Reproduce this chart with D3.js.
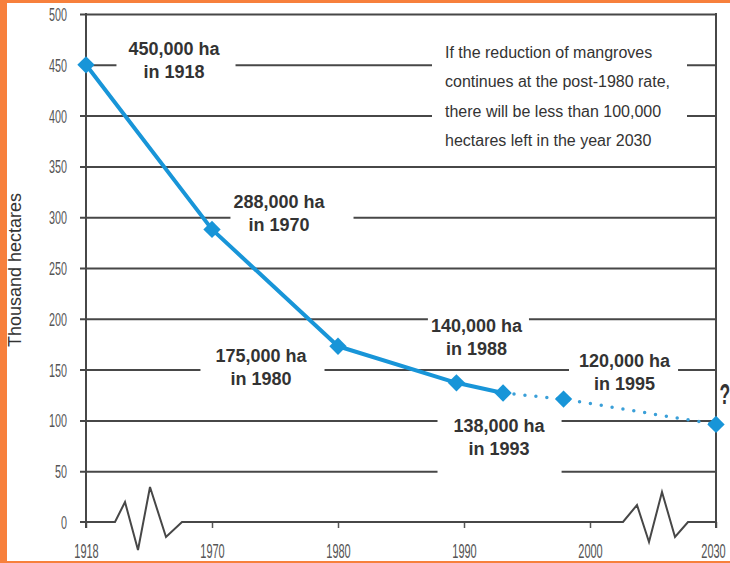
<!DOCTYPE html>
<html>
<head>
<meta charset="utf-8">
<script src="https://cdn.jsdelivr.net/npm/d3@7"></script>
<style>
  html, body { margin: 0; padding: 0; background: #ffffff; }
  svg { display: block; }
</style>
</head>
<body>
<svg id="chart" width="730" height="563"></svg>
<script>
// ---------------- DATA ----------------
const axisYears = [1918, 1970, 1980, 1990, 2000, 2030];
const yTicks = [0, 50, 100, 150, 200, 250, 300, 350, 400, 450, 500];
// point positions as drawn in the reference (year position, thousand hectares)
const pointYears = [1918, 1970, 1980, 1989.4, 1993.1, 1997.9, 2030];
const pointValues = [450, 288, 173, 137, 127, 121, 96];
const solidCount = 5; // first five points joined by a solid line, the rest dotted
const pointLabels = [
  ["450,000 ha", "in 1918"],
  ["288,000 ha", "in 1970"],
  ["175,000 ha", "in 1980"],
  ["140,000 ha", "in 1988"],
  ["138,000 ha", "in 1993"],
  ["120,000 ha", "in 1995"],
  ["?"]
];
const noteLines = [
  "If the reduction of mangroves",
  "continues at the post-1980 rate,",
  "there will be less than 100,000",
  "hectares left in the year 2030"
];
const yTitle = "Thousand hectares";

// ---------------- LAYOUT ----------------
const W = 730, H = 563;
const mLeft = 86, mRight = 716, mTop = 14, mBottom = 522;
const step = (mRight - mLeft) / (axisYears.length - 1);
const x = d3.scaleLinear().domain(axisYears).range(axisYears.map((d, i) => mLeft + i * step));
const y = d3.scaleLinear().domain([0, 500]).range([mBottom, mTop]);

const gridColor = "#474747";
const blue = "#1895d8";
const textColor = "#333333";
const labelFont = "'Liberation Sans', Arial, sans-serif";

// label offsets from their point (px) and white box paddings
const labelLayout = [
  {dx: 88, dy: -10, pl: 12, pr: 15, pb: 8},
  {dx: 67, dy: -21, pl: 3, pr: 28, pb: 8},
  {dx: -77, dy: 16, pl: 15, pr: 17, pb: 8},
  {dx: 20, dy: -51, pl: 3, pr: 6, pb: 8},
  {dx: -4, dy: 39, pl: 16, pr: 16, pb: 27},
  {dx: 61, dy: -32, pl: 10, pr: 7, pb: 8}
];

const svg = d3.select("#chart");
svg.append("rect").attr("x", 0).attr("y", 0).attr("width", W).attr("height", H).attr("fill", "#ffffff");

// y axis with gridlines
const gy = svg.append("g").attr("transform", `translate(${mLeft},0)`)
  .call(d3.axisLeft(y).tickValues(yTicks).tickSize(-(mRight - mLeft)).tickSizeOuter(0));
gy.select(".domain").remove();
gy.selectAll(".tick line")
  .attr("x1", -6)
  .attr("stroke", gridColor)
  .attr("stroke-width", 2);
gy.selectAll(".tick").filter(d => d === 0).select("line").remove();
const ySx = 0.6;
gy.selectAll(".tick text")
  .attr("x", -19 / ySx)
  .attr("dy", "0.36em")
  .attr("transform", `scale(${ySx},1)`)
  .attr("font-family", labelFont)
  .attr("font-size", 18)
  .attr("fill", "#555");

// x axis ticks & labels
const xSx = 0.55;
const gx = svg.append("g").attr("transform", `translate(0,${y(0)})`)
  .call(d3.axisBottom(x).tickValues(axisYears).tickFormat(d3.format("d")).tickSize(6).tickSizeOuter(0));
gx.select(".domain").remove();
gx.selectAll(".tick line").attr("stroke", "#555").attr("stroke-width", 1.5);
gx.selectAll(".tick text")
  .attr("y", 36.5).attr("dy", 0)
  .attr("transform", `scale(${xSx},1)`)
  .attr("font-family", labelFont)
  .attr("font-size", 20)
  .attr("fill", "#555");
gx.selectAll(".tick text").filter(d => d === axisYears[axisYears.length - 1])
  .attr("x", -3 / xSx);

// frame verticals
svg.append("line").attr("x1", x(1918)).attr("x2", x(1918)).attr("y1", y(500) - 1).attr("y2", y(0) + 6)
  .attr("stroke", gridColor).attr("stroke-width", 2);
svg.append("line").attr("x1", x(2030)).attr("x2", x(2030)).attr("y1", y(500) - 1).attr("y2", y(0) + 6)
  .attr("stroke", gridColor).attr("stroke-width", 2);

// zero line with broken-axis zigzags
const zig1 = [[0, 0], [10, 20], [23, -28], [35, 35], [51, -15], [67, 0]];
const zig2 = [[0, 0], [14, 17], [26, -20], [39, 30], [52, -15], [65, 0]];
const y0 = y(0);
const z1x = x(1918) + 29, z2x = x(2030) - 93;
const zeroPts = [[x(1918) - 6, y0]]
  .concat(zig1.map(p => [z1x + p[0], y0 - p[1]]))
  .concat(zig2.map(p => [z2x + p[0], y0 - p[1]]))
  .concat([[x(2030), y0]]);
svg.append("path").attr("d", d3.line()(zeroPts))
  .attr("fill", "none").attr("stroke", gridColor).attr("stroke-width", 2).attr("stroke-linejoin", "miter");

// y-axis title
svg.append("text")
  .attr("transform", `translate(21,270) rotate(-90)`)
  .attr("text-anchor", "middle")
  .attr("font-family", labelFont)
  .attr("font-size", 18)
  .attr("fill", textColor)
  .text(yTitle);

// note box
const noteG = svg.append("g");
noteG.append("rect").attr("x", 432).attr("y", 32).attr("width", 255).attr("height", 122).attr("fill", "#fff");
noteLines.forEach((t, i) => {
  noteG.append("text").attr("x", 445).attr("y", 58 + i * 29.3)
    .attr("font-family", labelFont).attr("font-size", 16).attr("fill", textColor)
    .text(t);
});

// point labels with white boxes
const pts = pointYears.map((yr, i) => ({x: x(yr), y: y(pointValues[i])}));
labelLayout.forEach((L, i) => {
  const g = svg.append("g");
  const cx = pts[i].x + L.dx, by = pts[i].y + L.dy;
  const texts = pointLabels[i].map((t, j) =>
    g.append("text").attr("x", cx).attr("y", by + j * 23)
      .attr("text-anchor", "middle")
      .attr("font-family", labelFont).attr("font-weight", "bold").attr("font-size", 18)
      .attr("fill", textColor).text(t));
  let minX = Infinity, maxX = -Infinity;
  texts.forEach(t => { const b = t.node().getBBox(); minX = Math.min(minX, b.x); maxX = Math.max(maxX, b.x + b.width); });
  g.insert("rect", "text")
    .attr("x", minX - L.pl).attr("y", by - 20)
    .attr("width", maxX - minX + L.pl + L.pr)
    .attr("height", 20 + 23 * (pointLabels[i].length - 1) + L.pb)
    .attr("fill", "#fff");
});

// data lines
const line = d3.line().x(d => d.x).y(d => d.y);
svg.append("path").attr("d", line(pts.slice(0, solidCount)))
  .attr("fill", "none").attr("stroke", blue).attr("stroke-width", 4).attr("stroke-linejoin", "round");
svg.append("path").attr("d", line(pts.slice(solidCount - 1)))
  .attr("fill", "none").attr("stroke", "#3a9fd8").attr("stroke-width", 3.5)
  .attr("stroke-linecap", "round").attr("stroke-dasharray", "0 11");

// diamonds
svg.selectAll("path.pt").data(pts).enter().append("path")
  .attr("class", "pt")
  .attr("d", d3.symbol(d3.symbolSquare, 150)())
  .attr("transform", d => `translate(${d.x},${d.y}) rotate(45)`)
  .attr("fill", blue);

// question mark at final point (tall, narrow)
const last = pts[pts.length - 1];
const qSx = 0.6;
svg.append("text")
  .attr("transform", `translate(${last.x + 3.5},${last.y - 20}) scale(${qSx},1)`)
  .attr("x", 0).attr("y", 0)
  .attr("font-family", labelFont).attr("font-weight", "bold").attr("font-size", 29)
  .attr("fill", textColor).text(pointLabels[pointLabels.length - 1][0]);

// orange frame (on top)
svg.append("rect").attr("x", 0).attr("y", 0).attr("width", 7).attr("height", H).attr("fill", "#f7803c");
svg.append("rect").attr("x", 0).attr("y", 0).attr("width", W).attr("height", 3).attr("fill", "#f7803c");
svg.append("rect").attr("x", 0).attr("y", H - 2).attr("width", W).attr("height", 2).attr("fill", "#f7803c");
</script>
</body>
</html>
